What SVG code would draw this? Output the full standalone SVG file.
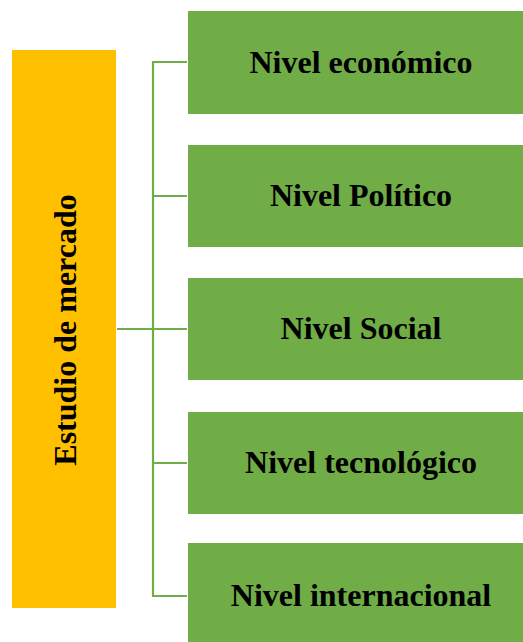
<svg xmlns="http://www.w3.org/2000/svg" width="523" height="642" viewBox="0 0 523 642">
<style>
.box{fill:#70AD47;}
.lbl{font-family:"Liberation Serif","Times New Roman",serif;font-weight:bold;font-size:32px;fill:#000;text-anchor:middle;}
.con{fill:none;stroke:#70AD47;stroke-width:2.2;}
</style>
<rect width="523" height="642" fill="#fff"/>
<g id="connectors">
<path class="con" d="M117 329 H187"/>
<path class="con" d="M187 62 H153 V596 H187"/>
<path class="con" d="M153 196 H187 M153 463 H187"/>
</g>
<g id="estudio">
<rect x="12" y="50" width="104" height="558" fill="#FFC000"/>
<text class="lbl" transform="translate(76 330) rotate(-90)">Estudio de mercado</text>
</g>
<g id="economico">
<rect class="box" x="188" y="11" width="345" height="103"/>
<text class="lbl" x="361" y="73">Nivel económico</text>
</g>
<g id="politico">
<rect class="box" x="188" y="145" width="345" height="102"/>
<text class="lbl" x="361" y="206">Nivel Político</text>
</g>
<g id="social">
<rect class="box" x="188" y="278" width="345" height="102"/>
<text class="lbl" x="361" y="339">Nivel Social</text>
</g>
<g id="tecnologico">
<rect class="box" x="188" y="412" width="345" height="102"/>
<text class="lbl" x="361" y="473">Nivel tecnológico</text>
</g>
<g id="internacional">
<rect class="box" x="188" y="543" width="345" height="110"/>
<text class="lbl" x="361" y="606">Nivel internacional</text>
</g>
</svg>
